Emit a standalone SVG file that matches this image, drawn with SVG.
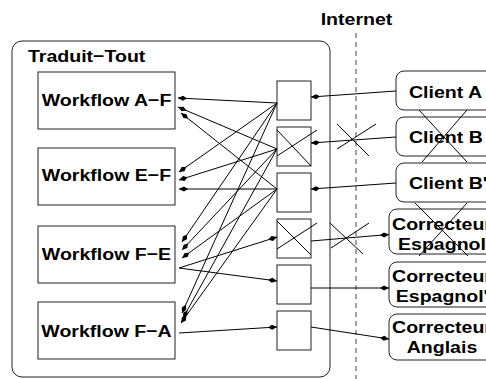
<svg xmlns="http://www.w3.org/2000/svg" width="486" height="379" viewBox="0 0 486 379">
<style>
.box{fill:#fff;stroke:#222;stroke-width:1}
.frame{fill:none;stroke:#222;stroke-width:1}
.t{font-family:"Liberation Sans",Arial,sans-serif;font-weight:bold;font-size:17px;fill:#000}
.c{text-anchor:middle}
.ln{stroke:#000;stroke-width:1;fill:none}
.arr{marker-end:url(#ah)}
.dash{stroke:#444;stroke-width:1;stroke-dasharray:5,4;fill:none}
</style>
<defs>
<marker id="ah" viewBox="-10 -3 11 6" refX="0" refY="0" markerWidth="11" markerHeight="6" markerUnits="userSpaceOnUse" orient="auto">
<path d="M0,0 L-5,-2.5 L-9,0 L-5,2.5 Z" fill="#000"/>
</marker>
</defs>
<rect width="486" height="379" fill="#fff"/>

<g id="internet">
<line class="dash" x1="356" y1="33" x2="356" y2="379"/>
<text class="t c" transform="translate(356.5,25) scale(1.15,1)">Internet</text>
</g>

<g id="traduit-tout">
<rect class="frame" x="12" y="41" width="318" height="336" rx="10"/>
<text class="t" transform="translate(28,62) scale(1.15,1)">Traduit−Tout</text>
</g>

<g id="wf-af">
<rect class="box" x="38" y="72" width="137" height="57"/>
<text class="t c" transform="translate(106.5,106) scale(1.15,1)">Workflow A−F</text>
</g>
<g id="wf-ef">
<rect class="box" x="38" y="148" width="137" height="57"/>
<text class="t c" transform="translate(106.5,181) scale(1.15,1)">Workflow E−F</text>
</g>
<g id="wf-fe">
<rect class="box" x="38" y="226" width="137" height="57"/>
<text class="t c" transform="translate(106.5,260) scale(1.15,1)">Workflow F−E</text>
</g>
<g id="wf-fa">
<rect class="box" x="38" y="302" width="137" height="57"/>
<text class="t c" transform="translate(106.5,337) scale(1.15,1)">Workflow F−A</text>
</g>

<g id="port1"><rect class="box" x="277" y="81" width="34" height="39"/></g>
<g id="port2"><rect class="box" x="277" y="127" width="34" height="39"/>
<line class="ln" x1="277" y1="130" x2="311" y2="166"/>
<line class="ln" x1="277" y1="156" x2="317" y2="130"/></g>
<g id="port3"><rect class="box" x="277" y="173" width="34" height="39"/></g>
<g id="port4"><rect class="box" x="277" y="219" width="34" height="39"/>
<line class="ln" x1="277" y1="221" x2="311" y2="255"/>
<line class="ln" x1="277" y1="249" x2="317" y2="223"/></g>
<g id="port5"><rect class="box" x="277" y="265" width="34" height="39"/></g>
<g id="port6"><rect class="box" x="277" y="311" width="34" height="39"/></g>

<g id="client-a">
<rect class="box" x="396" y="71" width="106" height="39" rx="8"/>
<text class="t" transform="translate(409,98) scale(1.15,1)">Client A</text>
</g>
<g id="client-b">
<rect class="box" x="396" y="117" width="106" height="39" rx="8"/>
<text class="t" transform="translate(409,143) scale(1.15,1)">Client B</text>
</g>
<g id="client-b2">
<rect class="box" x="396" y="163" width="106" height="39" rx="8"/>
<text class="t" transform="translate(409,189) scale(1.15,1)">Client B'</text>
</g>
<g id="corr-esp">
<rect class="box" x="389" y="209" width="106" height="45" rx="8"/>
<text class="t c" transform="translate(442,230) scale(1.15,1)">Correcteur</text>
<text class="t c" transform="translate(442,250) scale(1.15,1)">Espagnol</text>
</g>
<g id="corr-esp2">
<rect class="box" x="389" y="262" width="106" height="45" rx="8"/>
<text class="t c" transform="translate(442,282) scale(1.15,1)">Correcteur</text>
<text class="t c" transform="translate(442,302) scale(1.15,1)">Espagnol'</text>
</g>
<g id="corr-ang">
<rect class="box" x="389" y="314" width="106" height="46" rx="8"/>
<text class="t c" transform="translate(442,333) scale(1.15,1)">Correcteur</text>
<text class="t c" transform="translate(442,353) scale(1.15,1)">Anglais</text>
</g>

<g id="connectors">
<line class="ln arr" x1="277" y1="103" x2="178" y2="98"/>
<line class="ln arr" x1="277" y1="149" x2="178" y2="107"/>
<line class="ln arr" x1="277" y1="189" x2="181" y2="113"/>
<line class="ln arr" x1="277" y1="103" x2="179" y2="172"/>
<line class="ln arr" x1="277" y1="149" x2="179" y2="180"/>
<line class="ln arr" x1="277" y1="189" x2="179" y2="189"/>
<line class="ln arr" x1="277" y1="103" x2="182" y2="242"/>
<line class="ln arr" x1="277" y1="149" x2="182" y2="250"/>
<line class="ln arr" x1="277" y1="189" x2="182" y2="258"/>
<line class="ln arr" x1="277" y1="103" x2="182" y2="313"/>
<line class="ln arr" x1="277" y1="149" x2="183" y2="318"/>
<line class="ln arr" x1="277" y1="189" x2="181" y2="323"/>
<line class="ln arr" x1="179" y1="268" x2="277" y2="237"/>
<line class="ln arr" x1="179" y1="268" x2="277" y2="281"/>
<line class="ln arr" x1="179" y1="333" x2="277" y2="327"/>
<line class="ln arr" x1="396" y1="91" x2="311" y2="97"/>
<line class="ln arr" x1="396" y1="137" x2="311" y2="143"/>
<line class="ln arr" x1="396" y1="183" x2="311" y2="189"/>
<line class="ln arr" x1="311" y1="241" x2="389" y2="234.5"/>
<line class="ln arr" x1="311" y1="288" x2="389" y2="288"/>
<line class="ln arr" x1="311" y1="327" x2="389" y2="339"/>
<line class="ln" x1="337" y1="124" x2="369" y2="156"/>
<line class="ln" x1="337" y1="149" x2="376" y2="124"/>
<line class="ln" x1="330" y1="223" x2="363" y2="254"/>
<line class="ln" x1="331" y1="248" x2="369" y2="223"/>
<line class="ln" x1="419" y1="110" x2="467" y2="162"/>
<line class="ln" x1="467" y1="110" x2="422" y2="162"/>
<line class="ln" x1="415" y1="203" x2="468" y2="256"/>
<line class="ln" x1="467" y1="203" x2="419" y2="256"/>
</g>
</svg>
